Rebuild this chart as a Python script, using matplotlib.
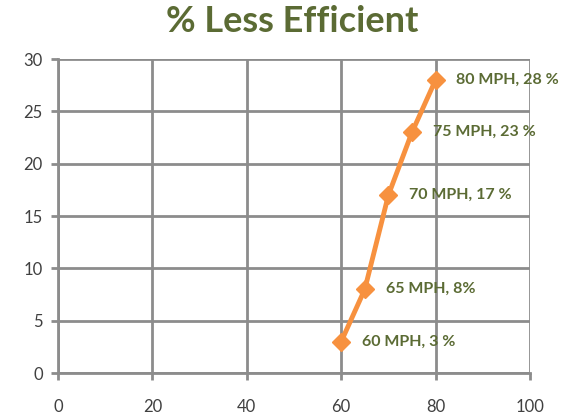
import matplotlib
matplotlib.use("Agg")
import matplotlib.pyplot as plt

speeds = [60, 65, 70, 75, 80]
pct_less = [3, 8, 17, 23, 28]
labels = ["60 MPH, 3 %", "65 MPH, 8%", "70 MPH, 17 %", "75 MPH, 23 %", "80 MPH, 28 %"]
x_ticks = [0, 20, 40, 60, 80, 100]
y_ticks = [0, 5, 10, 15, 20, 25, 30]

plt.rcParams['font.family'] = ['Lato', 'DejaVu Sans']

fig = plt.figure(figsize=(5.84, 4.18), dpi=100)
ax = fig.add_axes([58/584, 1 - 373/418, 472/584, 314/418])

grid_c = '#8c8c8c'
ax.plot(speeds, pct_less, color='#f7913f', lw=3.5, marker='D', ms=9, zorder=3, clip_on=False)
for x, y, t in zip(speeds, pct_less, labels):
    ax.annotate(t, (x, y), xytext=(15, 0), textcoords='offset points', va='center', ha='left',
                fontsize=11.5, fontweight='bold', color='#5b6b34', zorder=4)

ax.set_xlim(0, 100)
ax.set_ylim(0, 30)
ax.set_xticks(x_ticks)
ax.set_yticks(y_ticks)
ax.grid(True, color=grid_c, lw=2)
ax.set_axisbelow(True)
for s in ['top', 'right']:
    ax.spines[s].set_visible(False)
for s in ['left', 'bottom']:
    ax.spines[s].set_color(grid_c)
    ax.spines[s].set_linewidth(2)
ax.tick_params(axis='both', colors=grid_c, width=2, length=5, labelcolor='#404040', labelsize=12)
ax.tick_params(axis='x', pad=14)
ax.tick_params(axis='y', pad=6)

fig.text(0.5, 1 - 22/418, '% Less Efficient', ha='center', va='center', fontsize=26,
         fontweight='bold', color='#5b6b34')

fig.savefig('out.png', dpi=100)
